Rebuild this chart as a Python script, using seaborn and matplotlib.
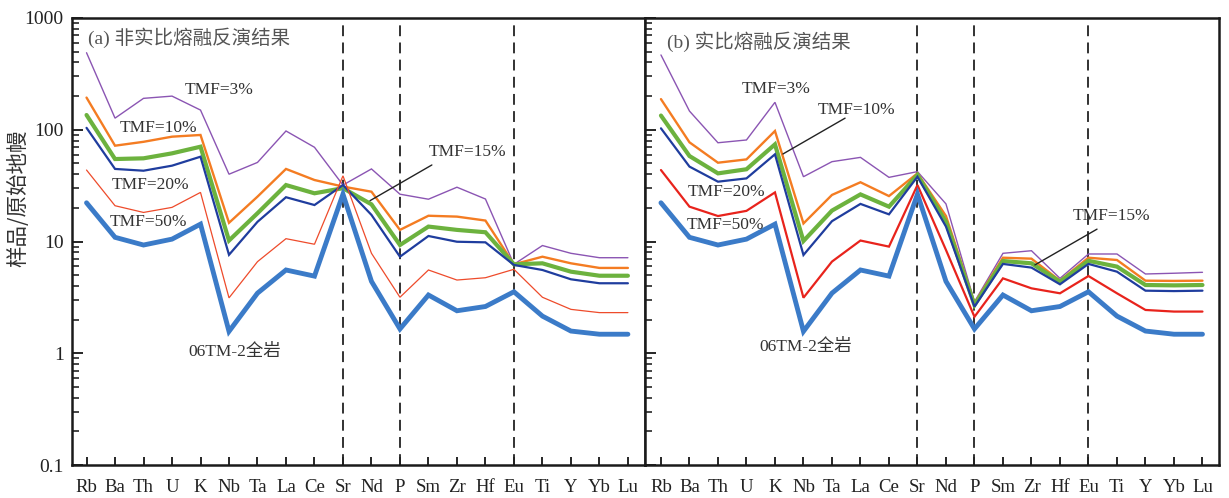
import numpy as np
import pandas as pd
import matplotlib
matplotlib.use('Agg')
import matplotlib.pyplot as plt
import seaborn as sns
from matplotlib.ticker import LogLocator, FixedLocator, NullFormatter

sns.set_style('ticks')
plt.rcParams['font.family'] = ['Liberation Serif', 'Noto Sans CJK SC']
plt.rcParams['axes.unicode_minus'] = False

# element order (primitive-mantle normalised spider diagram)
elements = ['Rb', 'Ba', 'Th', 'U', 'K', 'Nb', 'Ta', 'La', 'Ce', 'Sr',
            'Nd', 'P', 'Sm', 'Zr', 'Hf', 'Eu', 'Ti', 'Y', 'Yb', 'Lu']

# whole rock 06TM-2 (same in both panels)
whole_rock = [22.2, 10.9, 9.3, 10.5, 14.3, 1.57, 3.45, 5.56, 4.9, 26.5,
              4.4, 1.65, 3.32, 2.4, 2.62, 3.55, 2.15, 1.58, 1.48, 1.48]

# (a) non-modal melting inversion
a_purple = [489, 127, 191, 200, 150, 40, 51, 97.5, 69.7, 32,
            44.6, 26.5, 23.9, 30.6, 24, 6.25, 9.2, 7.84, 7.16, 7.16]
a_orange = [194, 72, 78, 86.7, 89.8, 14.7, 25.2, 44.6, 35.5, 31,
            27.9, 12.7, 17.0, 16.7, 15.4, 6.25, 7.31, 6.38, 5.8, 5.8]
a_green = [135.5, 54.7, 55.5, 61.5, 70.5, 10.2, 17.9, 32, 27, 30,
           21.5, 9.3, 13.6, 12.7, 12.1, 6.25, 6.38, 5.37, 4.94, 4.94]
a_navy = [104, 44.6, 43, 47.7, 57.4, 7.6, 15, 24.9, 21.2, 32,
          17.3, 7.31, 11.2, 9.95, 9.83, 6.17, 5.56, 4.59, 4.23, 4.23]
a_red = [43.6, 20.9, 18.2, 20.2, 27.5, 3.13, 6.6, 10.6, 9.45, 38.7,
         7.84, 3.17, 5.56, 4.52, 4.74, 5.64, 3.17, 2.47, 2.31, 2.31]

# (b) modal melting inversion
b_purple = [467, 147, 76.5, 81, 176, 38, 51.8, 56.6, 37.5, 42.2,
            21.7, 2.89, 7.84, 8.27, 4.68, 7.73, 7.73, 5.12, 5.2, 5.3]
b_orange = [188, 77.2, 50.7, 54.3, 97.5, 14.5, 26.1, 33.9, 25.5, 40.7,
            16.9, 2.8, 7.16, 7.02, 4.46, 7.16, 6.83, 4.46, 4.44, 4.46]
b_green = [134, 58.2, 40.7, 44.3, 74, 10.1, 18.9, 26.4, 20.5, 39.4,
           15, 2.7, 6.69, 6.38, 4.37, 6.72, 5.96, 4.08, 4.05, 4.08]
b_navy = [103, 46.8, 34.3, 36.7, 60.3, 7.57, 15.2, 21.7, 17.5, 38,
          13.6, 2.61, 6.3, 5.84, 4.14, 6.3, 5.37, 3.63, 3.6, 3.63]
b_red = [43.6, 20.5, 16.9, 18.8, 27.5, 3.14, 6.61, 10.2, 9.0, 32,
         8.4, 2.12, 4.68, 3.81, 3.44, 4.91, 3.44, 2.44, 2.36, 2.36]

divider_elements = ['Sr', 'P', 'Eu']

c_purple = '#8b55b3'
c_orange = '#f47c22'
c_green = '#6cb23e'
c_navy = '#1f3d9e'
c_blue = '#3b7bc8'
txt_col = '#333333'
tfont = ['Liberation Serif', 'Noto Sans CJK SC']

xpos = np.arange(len(elements))

fig = plt.figure(figsize=(12.29, 4.98), dpi=100)
fig.patch.set_facecolor('white')
ax_a = fig.add_axes([72 / 1229, 33 / 498, 573 / 1229, 447 / 498])
ax_b = fig.add_axes([645 / 1229, 33 / 498, 574 / 1229, 447 / 498])

panel_a = [(a_purple, c_purple, 1.0), (a_orange, c_orange, 1.7),
           (a_green, c_green, 3.0), (a_navy, c_navy, 1.6),
           (a_red, '#ee4b2b', 0.9), (whole_rock, c_blue, 3.5)]
panel_b = [(b_purple, c_purple, 1.0), (b_orange, c_orange, 1.7),
           (b_green, c_green, 3.0), (b_navy, c_navy, 1.6),
           (b_red, '#e8231c', 1.6), (whole_rock, c_blue, 3.5)]

for ax, series, xlim in [(ax_a, panel_a, (-0.51, 19.6)), (ax_b, panel_b, (-0.56, 19.58))]:
    for vals, col, lw in series:
        df = pd.DataFrame({'x': xpos, 'v': vals})
        sns.lineplot(data=df, x='x', y='v', ax=ax, color=col, linewidth=lw,
                     solid_joinstyle='miter', zorder=3)
    for el in divider_elements:
        ax.axvline(elements.index(el), color='#222222', lw=1.3,
                   linestyle=(0, (6, 3.5)), zorder=2)
    ax.set_yscale('log')
    ax.set_ylim(0.1, 1000)
    ax.set_xlim(*xlim)
    ax.set_xticks(xpos)
    ax.set_xticklabels(elements, fontsize=13.5, family='Liberation Serif', color='#222222')
    ax.set_xlabel('')
    ax.set_ylabel('')
    ax.yaxis.set_major_locator(LogLocator(base=10, numticks=10))
    ax.yaxis.set_minor_locator(LogLocator(base=10, subs=np.arange(2, 10), numticks=20))
    ax.yaxis.set_minor_formatter(NullFormatter())
    ax.tick_params(axis='x', direction='in', length=6, width=1.4, pad=10,
                   top=False, bottom=True)
    ax.tick_params(axis='y', which='major', direction='in', length=8, width=1.4,
                   right=False, left=True, pad=6)
    ax.tick_params(axis='y', which='minor', direction='in', length=5, width=1.2,
                   right=False, left=True)
    for sp in ax.spines.values():
        sp.set_linewidth(1.8)
        sp.set_color('#1a1a1a')
        sp.set_visible(True)
    ax.set_facecolor('white')

ax_a.set_yticks([0.1, 1, 10, 100, 1000])
ax_a.set_yticklabels(['0.1', '1', '10', '100', '1000'], fontsize=14,
                     family='Liberation Serif', color='#222222')
ax_b.tick_params(axis='y', which='both', labelleft=False)

fig.text(18 / 1229, 1 - 198 / 498, '样品/原始地幔', rotation=90, ha='center', va='center',
         fontsize=15.5, family='Noto Sans CJK SC', color='#333333')

# panel titles
ax_a.text(0.05, 662, '(a) 非实比熔融反演结果', fontsize=14, family=tfont,
          color='#555555', va='center', ha='left')
ax_b.text(0.21, 610, '(b) 实比熔融反演结果', fontsize=14, family=tfont,
          color='#555555', va='center', ha='left')

# labels panel a
labels_a = [('TMF=3%', 3.46, 227), ('TMF=10%', 1.18, 104), ('TMF=20%', 0.89, 32),
            ('TMF=50%', 0.82, 14.9), ('TMF=15%', 12.02, 63.2), ('06TM-2全岩', 3.56, 1.03)]
labels_b = [('TMF=3%', 2.84, 232), ('TMF=10%', 5.51, 150), ('TMF=20%', 0.95, 27.7),
            ('TMF=50%', 0.91, 14.06), ('TMF=15%', 14.46, 16.9), ('06TM-2全岩', 3.47, 1.14)]
for ax, labels in [(ax_a, labels_a), (ax_b, labels_b)]:
    for s, x, y in labels:
        ax.text(x, y, s, fontsize=12.5, family=tfont, color=txt_col,
                ha='left', va='center', zorder=5)

leader = dict(arrowstyle='-', color='#222222', lw=1.0, shrinkA=0, shrinkB=0)
ax_a.annotate('', xy=(9.95, 23.2), xytext=(12.12, 48.4), arrowprops=leader)
ax_b.annotate('', xy=(4.28, 60.7), xytext=(6.46, 127), arrowprops=leader)
ax_b.annotate('', xy=(13.12, 6.17), xytext=(15.3, 12.9), arrowprops=leader)

fig.savefig('out.png', dpi=100, facecolor='white')
